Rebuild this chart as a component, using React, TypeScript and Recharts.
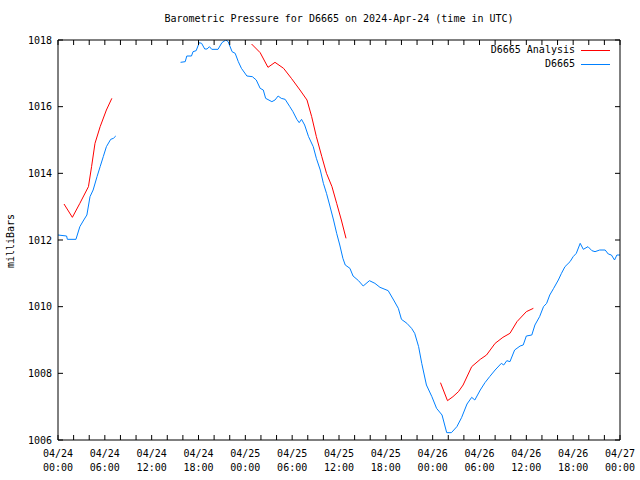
import { Line, LineChart, XAxis, YAxis } from "recharts";

// hours since 2024-04-24 00:00 UTC; null breaks the line
const sensorHours = [
  0, 1.1, 1.2, 2.3, 2.8, 3.3, 3.7, 4.1, 4.5, 5.0, 5.4, 5.8, 6.2, 6.75, 7.1, 7.4,
  11,
  15.7, 16.3, 16.5, 17.1, 17.3, 17.7, 18.1, 18.4, 18.8, 19.1, 19.4, 19.7, 20.5, 21.0,
  21.5, 21.8, 22.3, 22.7, 23.1, 23.5, 24.2, 24.9, 25.4, 25.9, 26.3, 26.6, 27.4, 27.8,
  28.2, 28.6, 29.1, 29.7, 30.1, 30.6, 30.9, 31.2, 31.6, 32.1, 32.7, 33.1, 33.6, 34.0,
  34.4, 34.8, 35.3, 35.7, 36.1, 36.5, 36.8, 37.4, 37.8, 38.5, 39.1, 39.9, 40.6, 41.25,
  42.3, 43.0, 43.6, 44.0, 44.7, 45.3, 45.7, 46.2, 46.6, 47.2, 47.9, 48.5, 49.2, 49.8,
  50.4, 51.1, 51.7, 52.4, 53.0, 53.4, 54.1, 54.7, 55.3, 56.0, 56.8, 57.1, 57.5, 57.9,
  58.5, 59.2, 59.6, 60.0, 60.7, 61.1, 61.7, 62.2, 62.6, 63.0, 63.5, 64.1, 64.5, 64.95,
  65.6, 66.0, 66.4, 66.9, 67.3, 67.9, 68.4, 68.8, 69.4, 70.1, 70.5, 70.9, 71.3, 71.6, 72,
];
const sensorPressure = [
  1012.15, 1012.12, 1012.02, 1012.02, 1012.4, 1012.6, 1012.75, 1013.3, 1013.5, 1013.9,
  1014.2, 1014.5, 1014.8, 1015.02, 1015.05, 1015.12,
  null,
  1017.33, 1017.35, 1017.52, 1017.52, 1017.65, 1017.68, 1017.92, 1017.9, 1017.73, 1017.73,
  1017.8, 1017.72, 1017.72, 1017.92, 1018.0, 1017.95, 1017.65, 1017.6, 1017.35, 1017.15,
  1016.92, 1016.9, 1016.8, 1016.55, 1016.5, 1016.25, 1016.15, 1016.2, 1016.32, 1016.25,
  1016.22, 1016.0, 1015.85, 1015.62, 1015.52, 1015.62, 1015.45, 1015.1, 1014.8, 1014.45,
  1014.1, 1013.7, 1013.4, 1013.05, 1012.6, 1012.2, 1011.85, 1011.45, 1011.25, 1011.15,
  1010.92, 1010.78, 1010.62, 1010.78, 1010.7, 1010.58, 1010.48, 1010.2, 1009.95, 1009.62,
  1009.5, 1009.35, 1009.2, 1008.8, 1008.3, 1007.65, 1007.3, 1006.95, 1006.75, 1006.22,
  1006.22, 1006.4, 1006.67, 1007.08, 1007.28, 1007.2, 1007.5, 1007.72, 1007.9, 1008.1,
  1008.3, 1008.25, 1008.38, 1008.35, 1008.7, 1008.82, 1008.85, 1009.12, 1009.15, 1009.45,
  1009.7, 1010.0, 1010.1, 1010.35, 1010.55, 1010.8, 1011.0, 1011.2, 1011.35, 1011.5,
  1011.6, 1011.9, 1011.72, 1011.8, 1011.68, 1011.65, 1011.7, 1011.7, 1011.58, 1011.55,
  1011.4, 1011.55, 1011.55,
];

const analysisHours = [
  0.77, 1.84, 2.8, 3.9, 4.3, 4.74, 5.4, 6.2, 6.9,
  15,
  24.8, 25.9, 26.9, 27.8, 28.9, 29.9, 31.0, 31.9, 32.5, 33.1, 33.8, 34.4, 35.1, 35.7,
  36.3, 36.9,
  43,
  49.0, 49.9, 50.6, 51.3, 51.9, 53.0, 54.1, 54.9, 56.0, 57.0, 57.9, 58.8, 60.0, 60.9,
];
const analysisPressure = [
  1013.08, 1012.68, 1013.1, 1013.6, 1014.2, 1014.9, 1015.4, 1015.9, 1016.25,
  null,
  1017.88, 1017.62, 1017.18, 1017.33, 1017.15, 1016.85, 1016.5, 1016.2, 1015.7, 1015.1,
  1014.5, 1014.0, 1013.6, 1013.1, 1012.6, 1012.05,
  null,
  1007.72, 1007.18, 1007.3, 1007.45, 1007.65, 1008.2, 1008.42, 1008.55, 1008.9, 1009.08,
  1009.2, 1009.55, 1009.85, 1009.95,
];

const xTicks = [0, 2, 4, 6, 8, 10, 12, 14, 16, 18, 20, 22, 24, 26, 28, 30, 32, 34, 36,
  38, 40, 42, 44, 46, 48, 50, 52, 54, 56, 58, 60, 62, 64, 66, 68, 70, 72];
const tickDates = ["04/24", "04/24", "04/24", "04/24", "04/25", "04/25", "04/25",
  "04/25", "04/26", "04/26", "04/26", "04/26", "04/27"];
const tickTimes = ["00:00", "06:00", "12:00", "18:00", "00:00", "06:00", "12:00",
  "18:00", "00:00", "06:00", "12:00", "18:00", "00:00"];
const yTicks = [1006, 1008, 1010, 1012, 1014, 1016, 1018];

const sensorData = sensorHours.map((h, i) => ({ h, v: sensorPressure[i] }));
const analysisData = analysisHours.map((h, i) => ({ h, v: analysisPressure[i] }));

const FONT = "'DejaVu Sans Mono', 'Liberation Mono', monospace";
const RED = "#ff0000";
const BLUE = "#0080ff";

function BottomTick({ x, y, payload }: any) {
  const h = payload.value;
  const idx = h / 6;
  const labeled = h % 6 === 0;
  return (
    <g>
      <line x1={x} x2={x} y1={y} y2={y - 5} stroke="#000" />
      {labeled && (
        <text x={x} y={y + 17} textAnchor="middle" fontFamily={FONT} fontSize={10} fill="#000">
          {tickDates[idx]}
        </text>
      )}
      {labeled && (
        <text x={x} y={y + 31} textAnchor="middle" fontFamily={FONT} fontSize={10} fill="#000">
          {tickTimes[idx]}
        </text>
      )}
    </g>
  );
}

function TopTick({ x, y }: any) {
  return <line x1={x} x2={x} y1={y} y2={y + 5} stroke="#000" />;
}

function LeftTick({ x, y, payload }: any) {
  return (
    <g>
      <line x1={x} x2={x + 5} y1={y} y2={y} stroke="#000" />
      <text x={x - 6} y={y + 3.5} textAnchor="end" fontFamily={FONT} fontSize={10} fill="#000">
        {payload.value}
      </text>
    </g>
  );
}

function RightTick({ x, y }: any) {
  return <line x1={x} x2={x - 5} y1={y} y2={y} stroke="#000" />;
}

const textStyle: React.CSSProperties = {
  position: "absolute",
  fontFamily: FONT,
  fontSize: 10,
  lineHeight: "12px",
  color: "#000",
  whiteSpace: "nowrap",
};

export default function App() {
  return (
    <div style={{ position: "absolute", left: 0, top: 0, width: 640, height: 480, background: "#fff" }}>
      <LineChart width={640} height={480} data={sensorData} margin={{ top: 0, right: 0, bottom: 0, left: 0 }}>
        <XAxis
          dataKey="h"
          type="number"
          domain={[0, 72]}
          ticks={xTicks}
          interval={0}
          allowDataOverflow
          height={40}
          tickSize={0}
          tickMargin={0}
          tickLine={false}
          axisLine={{ stroke: "#000" }}
          tick={<BottomTick />}
        />
        <XAxis
          xAxisId="top"
          orientation="top"
          dataKey="h"
          type="number"
          domain={[0, 72]}
          ticks={xTicks}
          interval={0}
          allowDataOverflow
          height={40}
          tickSize={0}
          tickMargin={0}
          tickLine={false}
          axisLine={{ stroke: "#000" }}
          tick={<TopTick />}
        />
        <YAxis
          type="number"
          domain={[1006, 1018]}
          ticks={yTicks}
          interval={0}
          allowDataOverflow
          width={58}
          tickSize={0}
          tickMargin={0}
          tickLine={false}
          axisLine={{ stroke: "#000" }}
          tick={<LeftTick />}
        />
        <YAxis
          yAxisId="right"
          orientation="right"
          type="number"
          domain={[1006, 1018]}
          ticks={yTicks}
          interval={0}
          allowDataOverflow
          width={20}
          tickSize={0}
          tickMargin={0}
          tickLine={false}
          axisLine={{ stroke: "#000" }}
          tick={<RightTick />}
        />
        <Line
          data={analysisData}
          dataKey="v"
          type="linear"
          stroke={RED}
          strokeWidth={1}
          dot={false}
          connectNulls={false}
          isAnimationActive={false}
        />
        <Line
          data={sensorData}
          dataKey="v"
          type="linear"
          stroke={BLUE}
          strokeWidth={1}
          dot={false}
          connectNulls={false}
          isAnimationActive={false}
        />
      </LineChart>

      <div style={{ ...textStyle, left: 0, width: 678, top: 13, textAlign: "center" }}>
        Barometric Pressure for D6665 on 2024-Apr-24 (time in UTC)
      </div>

      <div
        style={{
          ...textStyle,
          left: 11,
          top: 241,
          transform: "translate(-50%, -50%) rotate(-90deg)",
        }}
      >
        milliBars
      </div>

      <div style={{ ...textStyle, right: 65, top: 44, textAlign: "right" }}>D6665 Analysis</div>
      <div style={{ position: "absolute", left: 581, width: 29, top: 50, height: 1, background: RED }} />
      <div style={{ ...textStyle, right: 65, top: 58, textAlign: "right" }}>D6665</div>
      <div style={{ position: "absolute", left: 581, width: 29, top: 64, height: 1, background: BLUE }} />
    </div>
  );
}
